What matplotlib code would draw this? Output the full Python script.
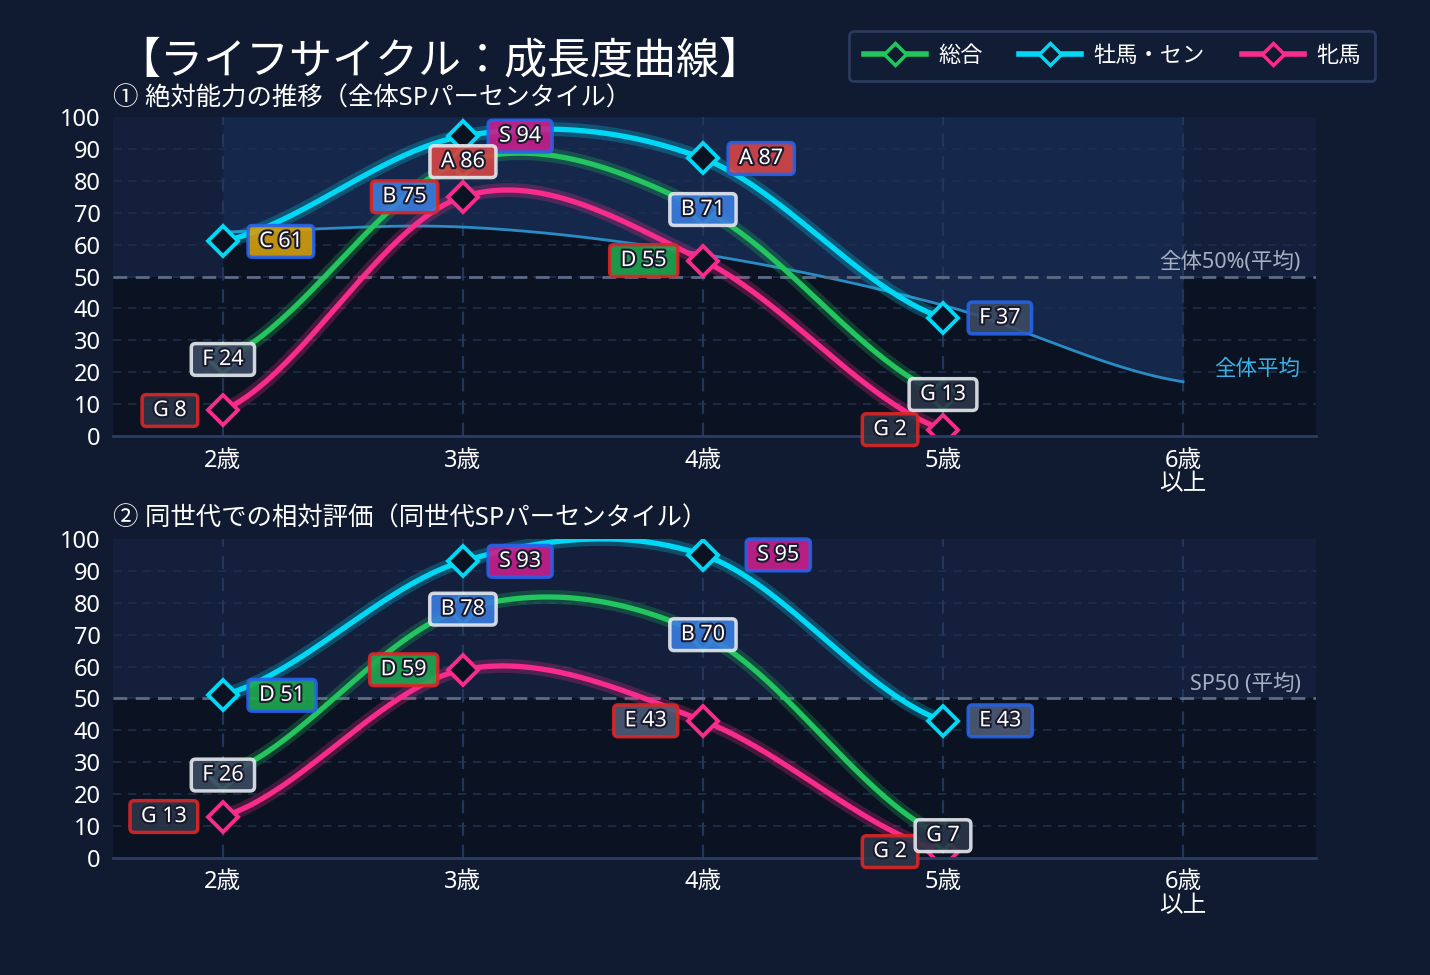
import matplotlib
matplotlib.use("Agg")
import matplotlib.pyplot as plt
import matplotlib.patheffects as pe
from matplotlib.lines import Line2D
import numpy as np

plt.rcParams['font.family'] = ['Noto Sans', 'Noto Sans CJK JP', 'DejaVu Sans']

# data
ages = [2, 3, 4, 5]
age_ticks = [2, 3, 4, 5, 6]
age_labels = ['2歳', '3歳', '4歳', '5歳', '6歳\n以上']
series_names = ['総合', '牡馬・セン', '牝馬']

abs_total = [24, 86, 71, 13]
abs_male = [61, 94, 87, 37]
abs_female = [8, 75, 55, 2]
abs_avg = [64, 65.5, 57, 41, 17]   # 全体平均 (2歳〜6歳以上)

rel_total = [26, 78, 70, 7]
rel_male = [51, 93, 95, 43]
rel_female = [13, 59, 43, 2]

# colours
BG = '#101a30'
DARK = '#0b1222'
LIGHT = '#131f3b'
LIGHT2 = '#15284b'
GREEN = '#22c55e'
CYAN = '#00d9f5'
PINK = '#f92c8c'
line_colors = [GREEN, CYAN, PINK]
box_edges = ['#e6e9ef', '#2563eb', '#dc2626']
grade_colors = {'S': '#c81e8c', 'A': '#d64545', 'B': '#3b7de0', 'C': '#d4a010',
                'D': '#1fa850', 'E': '#4d5b75', 'F': '#3d4b63', 'G': '#2b3648'}


def grade(v):
    for g, lim in [('S', 90), ('A', 80), ('B', 70), ('C', 60), ('D', 50), ('E', 40), ('F', 20)]:
        if v >= lim:
            return g
    return 'G'


def smooth(x, y, n=50):
    # catmull-rom through the points, ends with half chord tangents
    x = np.asarray(x, float)
    y = np.asarray(y, float)
    m = np.zeros_like(y)
    m[1:-1] = (y[2:] - y[:-2]) / (x[2:] - x[:-2])
    m[0] = (y[1] - y[0]) / (x[1] - x[0]) * 0.5
    m[-1] = (y[-1] - y[-2]) / (x[-1] - x[-2]) * 0.5
    xs, ys = [], []
    for i in range(len(x) - 1):
        t = np.linspace(0, 1, n)
        h = x[i + 1] - x[i]
        h00 = 2 * t**3 - 3 * t**2 + 1
        h10 = t**3 - 2 * t**2 + t
        h01 = -2 * t**3 + 3 * t**2
        h11 = t**3 - t**2
        xs.append(x[i] + t * h)
        ys.append(h00 * y[i] + h10 * h * m[i] + h01 * y[i + 1] + h11 * h * m[i + 1])
    return np.concatenate(xs), np.concatenate(ys)


fig = plt.figure(figsize=(14.3, 9.75), dpi=100, facecolor=BG)
ax1 = fig.add_axes([0.079, 0.5528, 0.8413, 0.3272])
ax2 = fig.add_axes([0.079, 0.12, 0.8413, 0.3272])

stroke = [pe.withStroke(linewidth=3, foreground='#1a1a2e')]


def draw_panel(ax, data, ref_text, avg=None, shifts={}):
    ax.set_facecolor(DARK)
    ax.set_xlim(1.542, 6.554)
    ax.set_ylim(0, 100)
    ax.axhspan(50, 100, color=LIGHT, zorder=0, lw=0)
    if avg is not None:
        sx, sy = smooth(age_ticks, avg)
        ax.fill_between(sx, 0, sy, color=DARK, zorder=0.5, lw=0)
        ax.fill_between(sx, sy, 100, color=LIGHT2, zorder=0.5, lw=0)
        ax.plot(sx, sy, color='#2a8cc4', lw=2, zorder=2)
        ax.text(6.49, 21, '全体平均', color='#3ab0e6', fontsize=15.5, ha='right', va='center', zorder=3)
    for y in range(10, 100, 10):
        ax.axhline(y, color='#1f2e4d', lw=1.2, ls=(0, (5, 4)), zorder=1)
    for x in age_ticks:
        ax.axvline(x, color='#24355a', lw=1.6, ls=(0, (6, 4)), zorder=1)
    ax.axhline(50, color='#5d6b85', lw=2, ls=(0, (5, 3)), zorder=2)
    ax.text(6.49, 54.5, ref_text, color='#a6b0c2', fontsize=15.5, ha='right', va='center', zorder=3)

    for k in [2, 1, 0]:
        vals = data[k]
        c = line_colors[k]
        sx, sy = smooth(ages, vals)
        ax.plot(sx, sy, color=c, lw=10, alpha=0.25, zorder=4, solid_capstyle='round')
        ax.plot(sx, sy, color=c, lw=3.8, zorder=5, solid_capstyle='round')
        ax.plot(ages, vals, ls='none', marker='D', ms=15, mfc=DARK, mec=c, mew=2.8, zorder=6)

    for k in [2, 1, 0]:
        vals = data[k]
        for i, v in enumerate(vals):
            if k == 0:
                off, ha = 0, 'center'
            elif k == 1:
                off, ha = 22 + shifts.get(i, 0), 'left'
            else:
                off, ha = -22, 'right'
            ax.annotate(f' {grade(v)} {v} ', (ages[i], v), xytext=(off, 0), textcoords='offset points',
                        ha=ha, va='center', fontsize=15.5, color='white', zorder=10,
                        path_effects=stroke,
                        bbox=dict(boxstyle='round,pad=0.25,rounding_size=0.2', fc=grade_colors[grade(v)],
                                  ec=box_edges[k], lw=2.5, alpha=0.9))

    ax.set_xticks(age_ticks)
    ax.set_xticklabels(age_labels, linespacing=1.0)
    ax.set_yticks(range(0, 101, 10))
    ax.tick_params(colors='white', labelsize=17, length=0, pad=9)
    for s in ['top', 'right', 'left']:
        ax.spines[s].set_visible(False)
    ax.spines['bottom'].set_color('#2a3d66')
    ax.spines['bottom'].set_linewidth(2)
    ax.spines['bottom'].set_zorder(7)


draw_panel(ax1, [abs_total, abs_male, abs_female], '全体50%(平均)', avg=abs_avg)
draw_panel(ax2, [rel_total, rel_male, rel_female], 'SP50 (平均)', shifts={2: 13})

fig.text(0.082, 0.936, '【ライフサイクル：成長度曲線】', color='white', fontsize=31, va='center')
fig.text(0.079, 0.898, '① 絶対能力の推移（全体SPパーセンタイル）', color='white', fontsize=18.3, va='center')
fig.text(0.079, 0.468, '② 同世代での相対評価（同世代SPパーセンタイル）', color='white', fontsize=18.3, va='center')

handles = [Line2D([], [], color=c, lw=4, marker='D', ms=11, mfc=BG, mec=c, mew=2.5) for c in line_colors]
leg = fig.legend(handles, series_names, loc='upper right', bbox_to_anchor=(0.9615, 0.968), ncol=3,
                 fontsize=16, handlelength=2.8, handletextpad=0.55, columnspacing=1.65,
                 facecolor='#111c35', edgecolor='#2a3a5c', labelcolor='white', framealpha=1,
                 borderpad=0.65, borderaxespad=0)
leg.get_frame().set_linewidth(2)

fig.savefig('out.png', dpi=100, facecolor=BG)
